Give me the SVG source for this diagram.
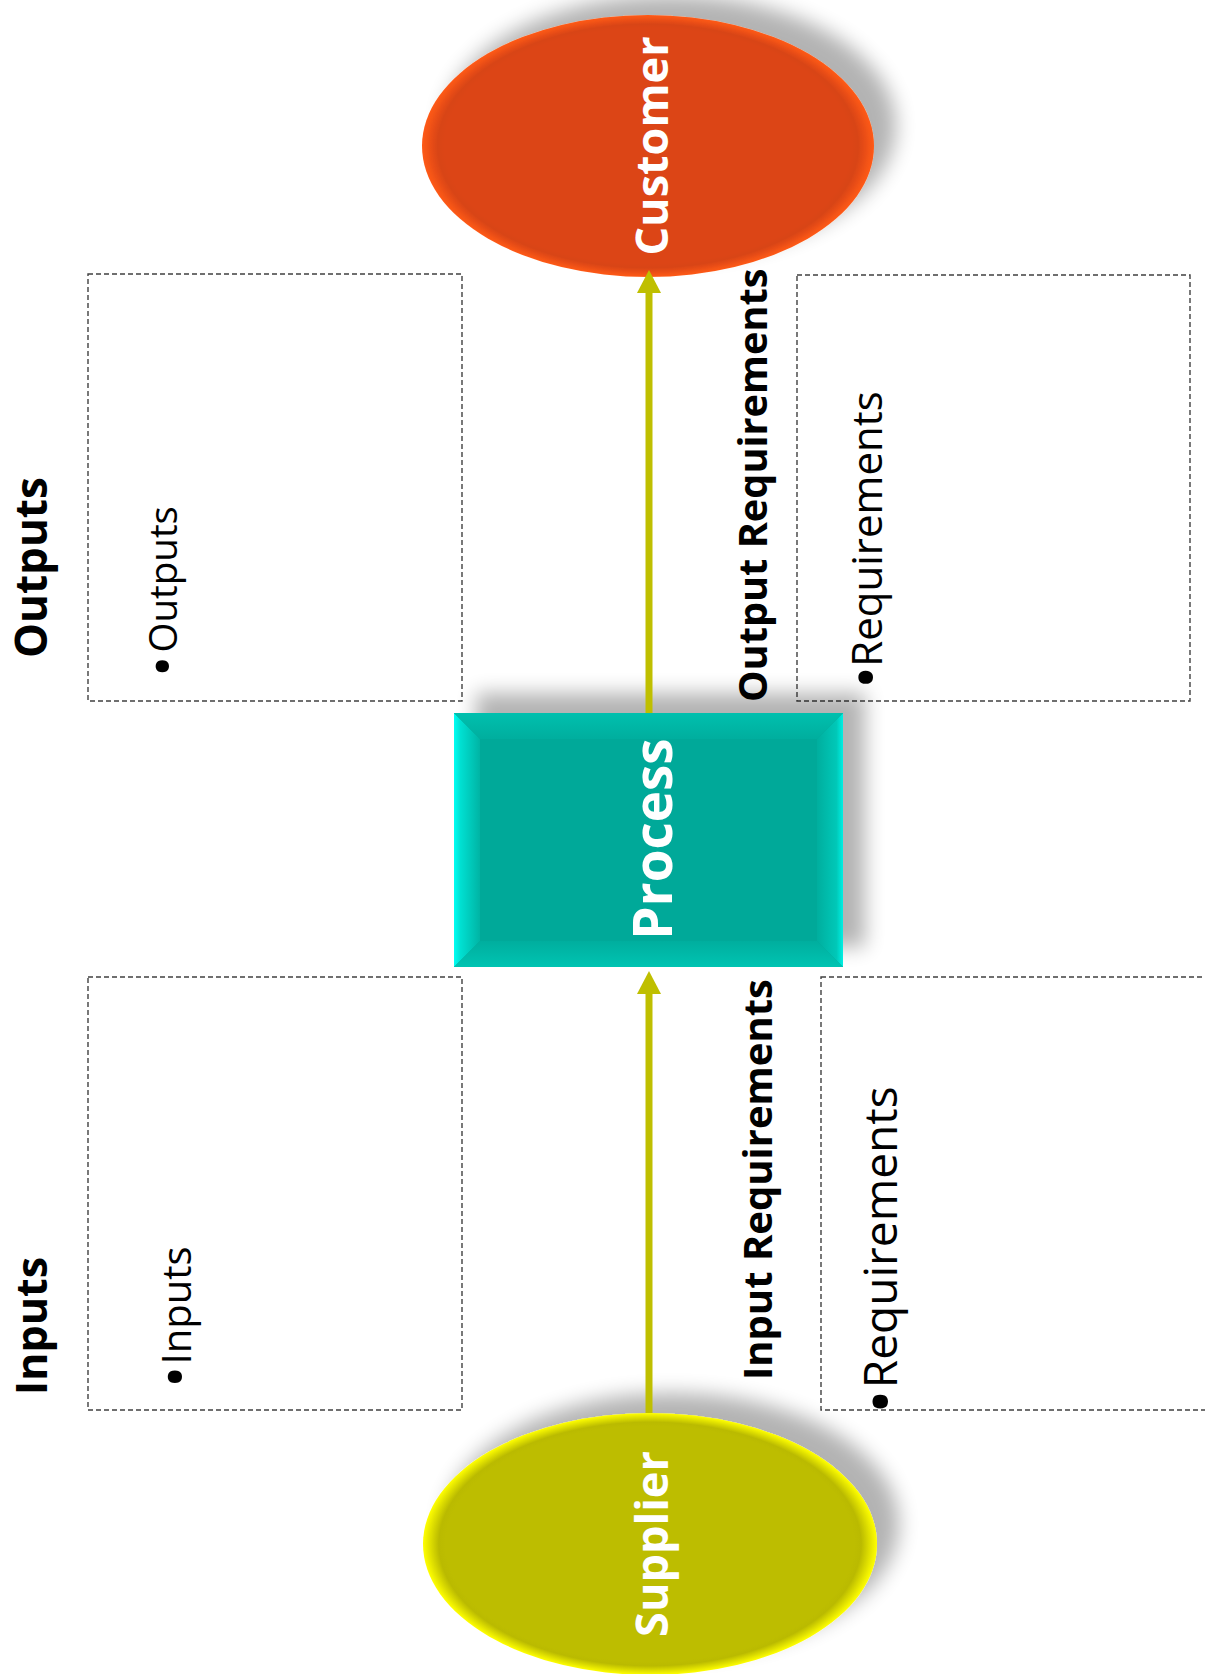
<svg xmlns="http://www.w3.org/2000/svg" width="1205" height="1674" viewBox="0 0 1205 1674">
<style>
.box{fill:none;stroke:#404040;stroke-width:1.4;stroke-dasharray:5 3}
.lbl{font-family:"Open Sans","Liberation Sans",sans-serif;font-weight:700;fill:#000}
.bul{font-family:"Open Sans","Liberation Sans",sans-serif;font-weight:400;fill:#000}
.node{font-family:"Open Sans","Liberation Sans",sans-serif;font-weight:700;fill:#fff;text-anchor:middle}
.conn{stroke:#BFBF00;stroke-width:7;fill:none}
</style>
<defs>
<filter id="sh" x="-30%" y="-40%" width="160%" height="180%">
<feGaussianBlur in="SourceAlpha" stdDeviation="10"/>
<feOffset dx="22" dy="-20" result="o"/>
<feComponentTransfer><feFuncA type="linear" slope="0.3"/></feComponentTransfer>
<feMerge><feMergeNode/><feMergeNode in="SourceGraphic"/></feMerge>
</filter>
<radialGradient id="gC" cx="0.5" cy="0.5" r="0.5">
<stop offset="0" stop-color="#DC4513"/><stop offset="0.9" stop-color="#DC4513"/><stop offset="0.93" stop-color="#D84412"/><stop offset="1" stop-color="#FF5A16"/>
</radialGradient>
<radialGradient id="gS" cx="0.5" cy="0.5" r="0.5">
<stop offset="0" stop-color="#BDBD00"/><stop offset="0.9" stop-color="#BDBD00"/><stop offset="0.93" stop-color="#BABA00"/><stop offset="1" stop-color="#FFFF00"/>
</radialGradient>
<linearGradient id="gL" x1="0" y1="0" x2="1" y2="0">
<stop offset="0" stop-color="#00FFF4"/><stop offset="0.25" stop-color="#00E0D2"/><stop offset="1" stop-color="#00B4A4"/>
</linearGradient>
<linearGradient id="gR" x1="0" y1="0" x2="1" y2="0">
<stop offset="0" stop-color="#00AE9E"/><stop offset="0.75" stop-color="#00C8B8"/><stop offset="1" stop-color="#00F0E4"/>
</linearGradient>
<linearGradient id="gT" x1="0" y1="0" x2="0" y2="1">
<stop offset="0" stop-color="#00C0AE"/><stop offset="1" stop-color="#00AE9E"/>
</linearGradient>
<linearGradient id="gB" x1="0" y1="0" x2="0" y2="1">
<stop offset="0" stop-color="#00AE9E"/><stop offset="1" stop-color="#00C4B2"/>
</linearGradient>
<marker id="ah" markerUnits="userSpaceOnUse" markerWidth="24" markerHeight="24" refX="0" refY="12" orient="auto" viewBox="0 0 24 24">
<path d="M0,0 L23,12 L0,24 z" fill="#BFBF00"/>
</marker>
</defs>

<g id="boxes">
<rect class="box" x="88" y="274" width="374" height="427"/>
<rect class="box" x="797" y="275" width="393" height="426"/>
<rect class="box" x="88" y="977" width="374" height="433"/>
<rect class="box" x="821" y="977" width="400" height="433"/>
</g>

<g id="labels">
<text class="lbl" font-size="44" transform="translate(47,658) rotate(-90)">Outputs</text>
<text class="lbl" font-size="43" transform="translate(47,1395) rotate(-90)">Inputs</text>
<text class="lbl" font-size="39.7" transform="translate(767,702) rotate(-90)">Output Requirements</text>
<text class="lbl" font-size="40" transform="translate(772,1380) rotate(-90)">Input Requirements</text>
</g>

<g id="bullets">
<text class="bul" font-size="38.5" transform="translate(177,677) rotate(-90)"><tspan font-size="57" dy="6">•</tspan><tspan dx="3" dy="-6">Outputs</tspan></text>
<text class="bul" font-size="40" transform="translate(191,1388) rotate(-90)"><tspan font-size="60" dy="6">•</tspan><tspan dx="1" dy="-6">Inputs</tspan></text>
<text class="bul" font-size="42" transform="translate(882,689) rotate(-90)"><tspan font-size="62" dy="6">•</tspan><tspan dx="-1" dy="-6">Requirements</tspan></text>
<text class="bul" font-size="46" transform="translate(897,1414) rotate(-90)"><tspan font-size="66" dy="7">•</tspan><tspan dx="1" dy="-7">Requirements</tspan></text>
</g>

<g id="customer">
<ellipse cx="648" cy="146" rx="226" ry="131" fill="url(#gC)" filter="url(#sh)"/>
<text class="node" font-size="45" transform="translate(668,146) rotate(-90)">Customer</text>
</g>

<g id="process">
<rect x="454" y="713" width="389" height="254" fill="#00A999" filter="url(#sh)"/>
<polygon points="454,713 480,739 480,941 454,967" fill="url(#gL)"/>
<polygon points="843,713 817,739 817,941 843,967" fill="url(#gR)"/>
<polygon points="454,713 843,713 817,739 480,739" fill="url(#gT)"/>
<polygon points="454,967 843,967 817,941 480,941" fill="url(#gB)"/>
<text class="node" font-size="53" transform="translate(672,839) rotate(-90)">Process</text>
</g>

<g id="supplier">
<ellipse cx="650" cy="1544" rx="227" ry="131" fill="url(#gS)" filter="url(#sh)"/>
<text class="node" font-size="45" transform="translate(668,1544) rotate(-90)">Supplier</text>
</g>

<g id="connectors">
<line class="conn" x1="649" y1="713" x2="649" y2="293" marker-end="url(#ah)"/>
<line class="conn" x1="649" y1="1413" x2="649" y2="994" marker-end="url(#ah)"/>
</g>
</svg>
